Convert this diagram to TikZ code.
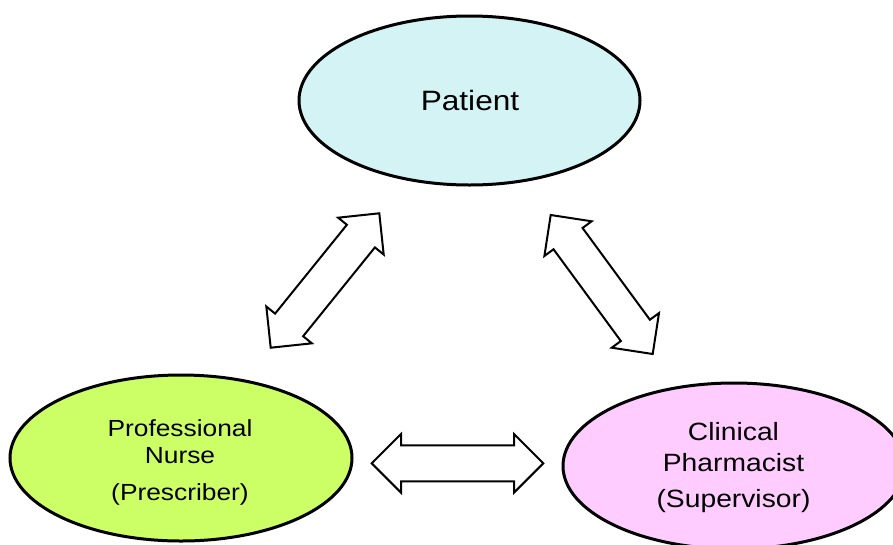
\documentclass[tikz,border=0pt]{standalone}
\usepackage{fontspec}
\setmainfont{Liberation Sans}
\usetikzlibrary{shapes.geometric,calc}

\definecolor{patientfill}{RGB}{211,243,245}
\definecolor{nursefill}{RGB}{204,255,102}
\definecolor{pharmfill}{RGB}{255,204,255}

% block double arrow between two tip coordinates
\newcommand\twowayarrow[2]{%
  \path ($(#1)!29.3pt!(#2)$) coordinate (#1h) ($(#2)!29.3pt!(#1)$) coordinate (#2h);
  \draw[blockarrow] (#1)
    -- ($(#1h)!29.3pt!90:(#2)$) -- ($(#1h)!18pt!90:(#2)$)
    -- ($(#2h)!18pt!-90:(#1)$) -- ($(#2h)!29.3pt!-90:(#1)$)
    -- (#2)
    -- ($(#2h)!29.3pt!90:(#1)$) -- ($(#2h)!18pt!90:(#1)$)
    -- ($(#1h)!18pt!-90:(#2)$) -- ($(#1h)!29.3pt!-90:(#2)$)
    -- cycle;}

\tikzset{
  role/.style={ellipse, draw=black, line width=3pt, inner sep=0pt,
    minimum width=342pt, minimum height=167pt},
  blockarrow/.style={draw=black, fill=white, line width=2pt, line join=miter},
  lbl/.style={anchor=base, inner sep=0pt, text=black},
}
\newcommand\wide[1]{\scalebox{1.13}[1]{#1}}

\begin{document}
\begin{tikzpicture}[x=1pt,y=-1pt]
  \useasboundingbox (0,0) rectangle (893,544);
  \clip (0,0) rectangle (893,544);

  % the three parties
  \node[role, fill=patientfill, minimum width=341pt, minimum height=169pt] (patient) at (469.5,100.5) {};
  \node[role, fill=nursefill, minimum height=166pt] (nurse) at (181,458) {};
  \node[role, fill=pharmfill, minimum height=166pt] (pharm) at (734,466) {};

  % labels
  \node[lbl, font=\fontsize{28}{32}\selectfont] (patientA) at (470,110.7) {\wide{Patient}};

  \node[lbl, font=\fontsize{23.3}{27}\selectfont] (nurseA) at (180,436) {\wide{Professional}};
  \node[lbl, font=\fontsize{23.3}{27}\selectfont] (nurseB) at (180,463.3) {\wide{Nurse}};
  \node[lbl, font=\fontsize{23.3}{27}\selectfont] (nurseC) at (180,500) {\wide{(Prescriber)}};

  \node[lbl, font=\fontsize{25}{29}\selectfont] (pharmA) at (733.5,440) {\wide{Clinical}};
  \node[lbl, font=\fontsize{25}{29}\selectfont] (pharmB) at (733.5,471) {\wide{Pharmacist}};
  \node[lbl, font=\fontsize{25}{29}\selectfont] (pharmC) at (733.5,507.3) {\wide{(Supervisor)}};

  % arrow tips
  \coordinate (pn) at (379.3,213.3);
  \coordinate (np) at (270.7,347.7);
  \coordinate (pp) at (550.7,215);
  \coordinate (ph) at (652.7,354);
  \coordinate (nh) at (371.7,463.3);
  \coordinate (hn) at (543.3,463.3);

  % two-way relations
  \twowayarrow{np}{pn}
  \twowayarrow{pp}{ph}
  \twowayarrow{nh}{hn}
\end{tikzpicture}
\end{document}
